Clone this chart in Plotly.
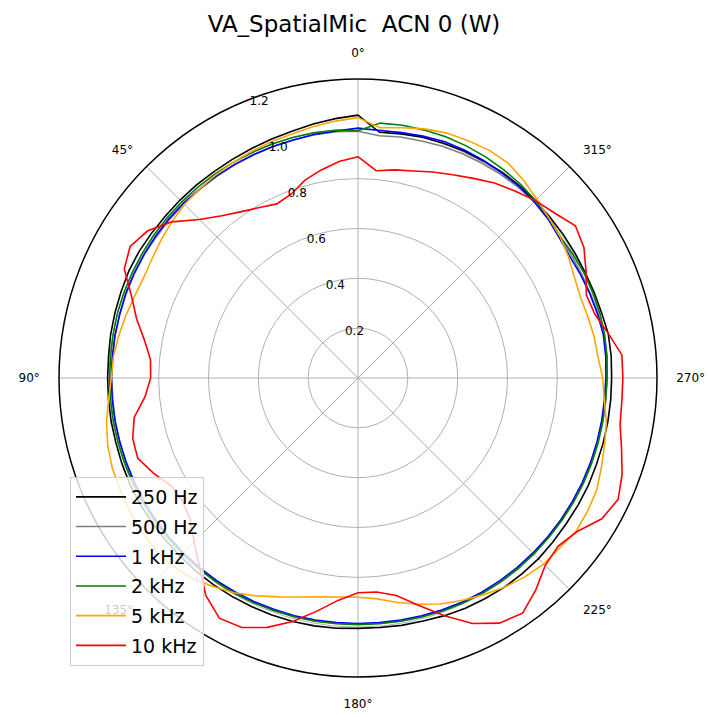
import plotly.graph_objects as go

# angles in degrees (0 at top, counterclockwise)
theta_deg = list(range(0, 360, 5))

r_250 = [
    1.055, 1.045, 1.035, 1.025, 1.020, 1.015, 1.012, 1.010, 1.010, 1.010,
    1.010, 1.012, 1.015, 1.015, 1.012, 1.010, 1.008, 1.005, 1.005, 1.005,
    1.006, 1.006, 1.008, 1.010, 1.010, 1.010, 1.010, 1.010, 1.012, 1.012,
    1.012, 1.012, 1.012, 1.012, 1.010, 1.008, 1.005, 1.005, 1.008, 1.010,
    1.015, 1.020, 1.022, 1.025, 1.025, 1.025, 1.022, 1.020, 1.020, 1.020,
    1.018, 1.018, 1.018, 1.018, 1.018, 1.020, 1.020, 1.012, 1.008, 1.005,
    1.005, 1.005, 1.005, 1.007, 1.008, 1.008, 1.006, 1.005, 1.003, 1.000,
    0.995, 0.990]

r_500 = [
    0.990, 0.992, 0.992, 0.990, 0.990, 0.988, 0.988, 0.988, 0.988, 0.988,
    0.988, 0.988, 0.990, 0.990, 0.990, 0.990, 0.990, 0.988, 0.988, 0.988,
    0.990, 0.990, 0.990, 0.992, 0.992, 0.992, 0.992, 0.992, 0.992, 0.992,
    0.992, 0.992, 0.992, 0.990, 0.990, 0.988, 0.988, 0.988, 0.990, 0.990,
    0.992, 0.995, 0.998, 1.000, 1.000, 0.998, 0.996, 0.995, 0.995, 0.995,
    0.995, 0.995, 0.995, 0.995, 1.000, 1.003, 1.003, 0.998, 0.992, 0.990,
    0.988, 0.990, 0.995, 1.000, 1.000, 0.998, 0.995, 0.993, 0.990, 0.985,
    0.982, 0.976]

r_1k = [
    1.003, 0.995, 0.993, 0.990, 0.990, 0.990, 0.990, 0.990, 0.990, 0.992,
    0.992, 0.992, 0.992, 0.992, 0.992, 0.990, 0.990, 0.990, 0.990, 0.990,
    0.990, 0.990, 0.990, 0.990, 0.992, 0.992, 0.992, 0.992, 0.992, 0.992,
    0.990, 0.990, 0.988, 0.988, 0.986, 0.985, 0.985, 0.985, 0.986, 0.988,
    0.990, 0.992, 0.993, 0.993, 0.993, 0.993, 0.993, 0.993, 0.993, 0.993,
    0.993, 0.993, 0.993, 0.993, 0.995, 0.998, 1.000, 0.995, 0.990, 0.985,
    0.980, 0.985, 0.995, 1.000, 1.005, 1.005, 1.008, 1.010, 1.010, 1.005,
    1.000, 0.997]

r_2k = [
    0.992, 0.998, 1.000, 1.000, 1.000, 1.000, 1.000, 1.000, 1.000, 1.000,
    1.000, 1.000, 1.000, 1.000, 1.000, 1.000, 0.998, 0.997, 0.997, 0.997,
    0.997, 0.997, 0.997, 0.997, 0.997, 0.997, 0.997, 0.997, 0.997, 0.997,
    0.997, 0.995, 0.993, 0.992, 0.991, 0.990, 0.990, 0.990, 0.991, 0.993,
    0.995, 0.997, 0.998, 0.998, 0.998, 0.998, 0.998, 0.998, 0.998, 0.998,
    0.998, 0.998, 0.998, 0.998, 1.000, 1.003, 1.005, 1.005, 1.003, 1.000,
    0.995, 0.990, 1.000, 1.007, 1.015, 1.020, 1.025, 1.028, 1.030, 1.030,
    1.030, 1.027]

r_5k = [
    1.045, 1.035, 1.025, 1.015, 1.010, 1.005, 1.000, 0.995, 0.990, 0.985,
    0.975, 0.965, 0.955, 0.950, 0.955, 0.965, 0.975, 0.985, 0.990, 1.005,
    1.025, 1.040, 1.050, 1.055, 1.060, 1.065, 1.065, 1.060, 1.045, 1.020,
    0.995, 0.965, 0.935, 0.910, 0.892, 0.882, 0.880, 0.890, 0.915, 0.940,
    0.965, 0.985, 1.005, 1.025, 1.042, 1.055, 1.058, 1.070, 1.065, 1.058,
    1.040, 1.025, 1.012, 0.992, 0.982, 0.967, 0.962, 0.955, 0.950, 0.958,
    0.975, 0.990, 1.000, 1.015, 1.035, 1.052, 1.055, 1.050, 1.046, 1.035,
    1.020, 1.008]

r_10k = [
    0.888, 0.872, 0.848, 0.822, 0.785, 0.771, 0.790, 0.815, 0.850, 0.900,
    0.975, 1.030, 1.056, 1.035, 0.968, 0.920, 0.870, 0.836, 0.832, 0.858,
    0.912, 0.936, 0.941, 0.905, 0.865, 0.860, 0.880, 0.930, 0.990, 1.065,
    1.113, 1.105, 1.065, 1.012, 0.950, 0.895, 0.862, 0.862, 0.886, 0.945,
    1.015, 1.087, 1.136, 1.152, 1.110, 1.063, 1.049, 1.074, 1.130, 1.152,
    1.128, 1.095, 1.068, 1.063, 1.063, 1.063, 1.021, 0.985, 0.975, 1.010,
    1.047, 1.065, 1.030, 1.007, 0.980, 0.955, 0.925, 0.900, 0.880, 0.860,
    0.848, 0.835]

series_names = ["250 Hz", "500 Hz", "1 kHz", "2 kHz", "5 kHz", "10 kHz"]
series_values = [r_250, r_500, r_1k, r_2k, r_5k, r_10k]
series_colors = ["#000000", "#808080", "#0000ff", "#008000", "#ffa500", "#ff0000"]

angle_ticks = [0, 45, 90, 135, 180, 225, 270, 315]
angle_labels = ["0°", "45°", "90°", "135°", "180°", "225°", "270°", "315°"]
radial_ticks = [0.2, 0.4, 0.6, 0.8, 1.0, 1.2]
radial_labels = ["0.2", "0.4", "0.6", "0.8", "1.0", "1.2"]

FONT = "DejaVu Sans"

fig = go.Figure()
for i, (name, vals, col) in enumerate(zip(series_names, series_values, series_colors)):
    fig.add_trace(go.Scatterpolar(
        r=vals + vals[:1],
        theta=theta_deg + theta_deg[:1],
        mode="lines",
        name=name,
        legendgroup=f"g{i}",
        line=dict(color=col, width=1.6),
    ))

fig.update_layout(
    width=708, height=717,
    margin=dict(l=59, r=51, t=79, b=40),
    paper_bgcolor="white",
    plot_bgcolor="white",
    font=dict(family=FONT, color="#000000"),
    title=dict(
        text="VA_SpatialMic\u00a0\u00a0ACN 0 (W)",
        x=0.5, xanchor="center",
        yref="container", y=1 - 24 / 717, yanchor="middle",
        font=dict(family=FONT, size=23, color="#000000"),
    ),
    polar=dict(
        bgcolor="white",
        domain=dict(x=[0, 1], y=[0, 1]),
        angularaxis=dict(
            rotation=90,
            direction="counterclockwise",
            tickmode="array",
            tickvals=angle_ticks,
            ticktext=angle_labels,
            tickfont=dict(family=FONT, size=12, color="#000000"),
            ticks="outside",
            ticklen=16,
            tickcolor="rgba(0,0,0,0)",
            showline=True,
            linecolor="#000000",
            linewidth=1.5,
            showgrid=True,
            gridcolor="#b0b0b0",
            gridwidth=1,
        ),
        radialaxis=dict(
            range=[0, 1.2],
            tickmode="array",
            tickvals=radial_ticks,
            ticktext=radial_labels,
            tickfont=dict(family=FONT, size=12, color="#000000"),
            angle=112.5,
            tickangle=112.5,
            side="clockwise",
            showline=False,
            ticks="",
            showgrid=True,
            gridcolor="#b0b0b0",
            gridwidth=1,
        ),
    ),
    showlegend=True,
    legend=dict(
        x=(70 - 59) / 598, y=(677 - 666) / 598,
        xanchor="left", yanchor="bottom",
        bgcolor="rgba(255,255,255,0.8)",
        bordercolor="#cccccc",
        borderwidth=1,
        font=dict(family=FONT, size=19, color="#000000"),
        tracegroupgap=2,
        itemwidth=50,
    ),
)

fig.write_html(
    "out.html",
    config={"displayModeBar": False},
    post_script="document.body.style.margin='0';",
)
